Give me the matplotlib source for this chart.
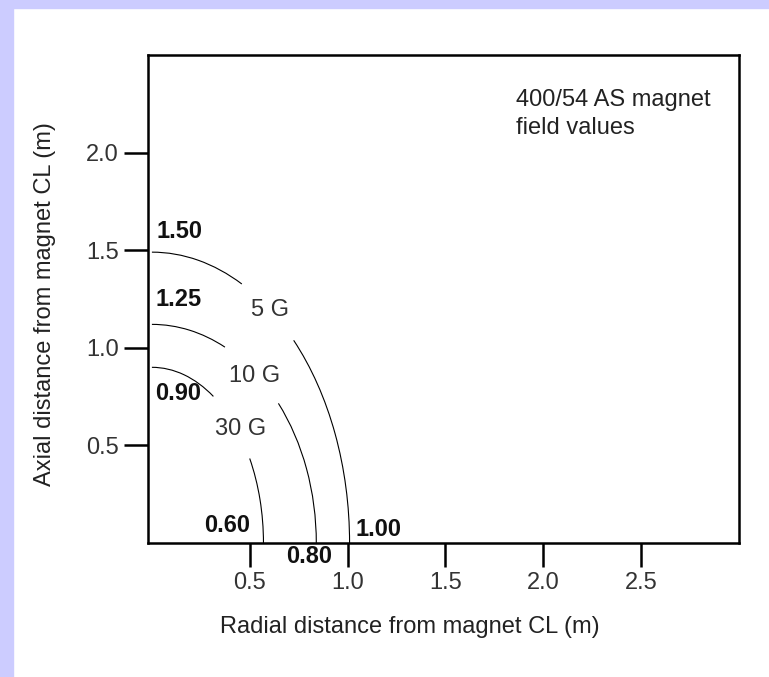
import matplotlib
matplotlib.use('Agg')
import matplotlib.pyplot as plt
from matplotlib.patches import Arc, Rectangle
import numpy as np

plt.rcParams['font.family'] = ['Liberation Sans', 'DejaVu Sans']

# field contours (as drawn): extent on axial axis and on radial axis (m)
field_names = ['5 G', '10 G', '30 G']
axial_extent = [1.49, 1.12, 0.90]
radial_extent = [1.01, 0.84, 0.57]
# where each contour is broken for its label (degrees from the radial axis)
gap_top = [70.9, 69.6, 67.3]
gap_bottom = [55.1, 47.9, 40.9]

axial_values = ['1.50', '1.25', '0.90']
radial_values = ['0.60', '0.80', '1.00']

x_ticks = [0.5, 1.0, 1.5, 2.0, 2.5]
y_ticks = [0.5, 1.0, 1.5, 2.0]

# label placement (data coords)
name_pos = [(0.603, 1.193), (0.526, 0.856), (0.454, 0.583)]
axial_val_pos = [(0.14, 1.594), (0.138, 1.248), (0.133, 0.766)]
radial_val_pos = [(0.384, 0.090), (0.804, -0.069), (1.158, 0.068)]

fig = plt.figure(figsize=(7.69, 6.77), dpi=100)
# lavender slide border
fig.patches.append(Rectangle((0, 1 - 8 / 677), 1, 8 / 677, transform=fig.transFigure,
                             color='#ccccff', zorder=0))
fig.patches.append(Rectangle((0, 0), 13 / 769, 1, transform=fig.transFigure,
                             color='#ccccff', zorder=0))

ax = fig.add_axes([148 / 769, 1 - 543 / 677, 591 / 769, 488 / 677])
ax.set_xlim(-0.02, 3.0)
ax.set_ylim(0, 2.5)

for i in range(len(field_names)):
    w = 2 * radial_extent[i]
    h = 2 * axial_extent[i]
    ax.add_patch(Arc((0, 0), w, h, theta1=gap_top[i], theta2=90, color='black', lw=0.8))
    ax.add_patch(Arc((0, 0), w, h, theta1=0, theta2=gap_bottom[i], color='black', lw=0.8))
    ax.text(name_pos[i][0], name_pos[i][1], field_names[i], fontsize=17,
            color='#333333', ha='center', va='center')
    ax.text(axial_val_pos[i][0], axial_val_pos[i][1], axial_values[i], fontsize=17,
            fontweight='bold', color='#111111', ha='center', va='center')
    ax.text(radial_val_pos[i][0], radial_val_pos[i][1], radial_values[i], fontsize=17,
            fontweight='bold', color='#111111', ha='center', va='center', clip_on=False)

ax.text(1.859, 2.198, '400/54 AS magnet\nfield values', fontsize=17, color='#222222',
        ha='left', va='center', linespacing=1.35)

ax.set_xticks(x_ticks)
ax.set_xticklabels(['%.1f' % t for t in x_ticks])
ax.set_yticks(y_ticks)
ax.set_yticklabels(['%.1f' % t for t in y_ticks])
ax.tick_params(axis='both', direction='out', length=17, width=1.8, labelsize=17,
               labelcolor='#333333')
ax.tick_params(axis='x', pad=4)
ax.tick_params(axis='y', pad=4)
for s in ax.spines.values():
    s.set_linewidth(1.8)

ax.set_xlabel('Radial distance from magnet CL (m)', fontsize=17, color='#222222')
ax.set_ylabel('Axial distance from magnet CL (m)', fontsize=17, color='#222222')
ax.xaxis.set_label_coords(0.443, -0.1715)
ax.xaxis.label.set_va('center')
ax.yaxis.set_label_coords(-0.174, 0.49)
ax.yaxis.label.set_va('center')

fig.savefig('out.png', dpi=100)
plt.close()
